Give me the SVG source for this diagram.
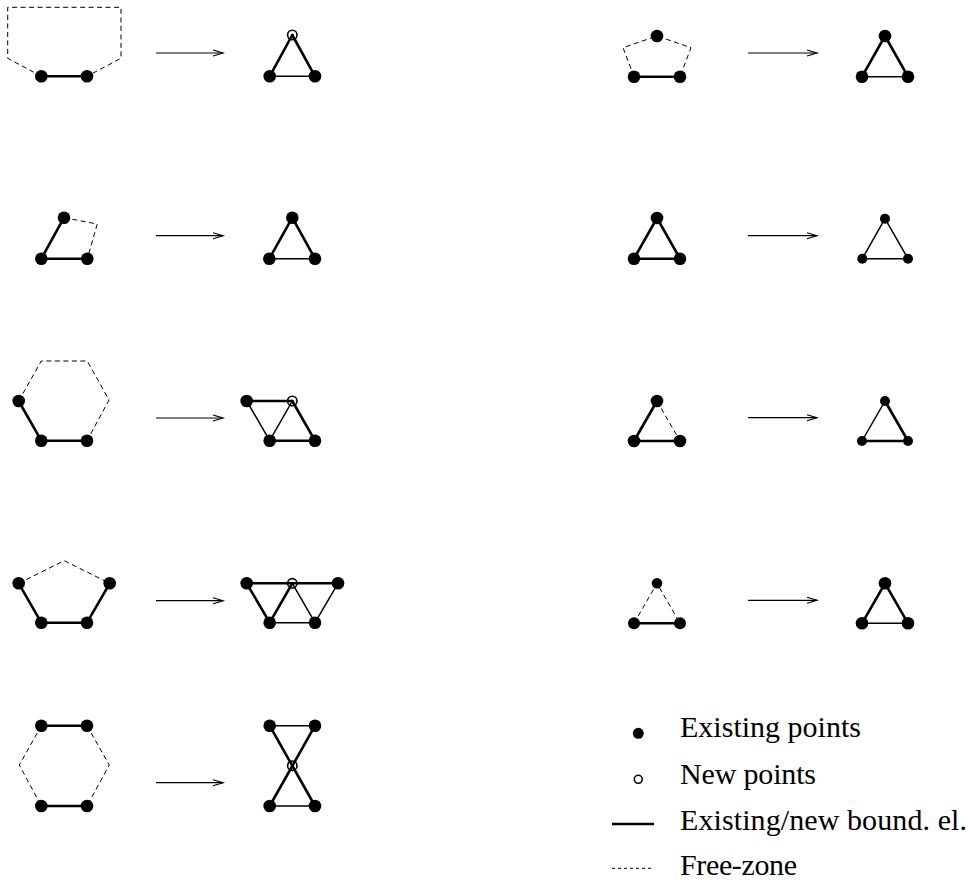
<svg xmlns="http://www.w3.org/2000/svg" width="968" height="882" viewBox="0 0 968 882">
<style>
.tk{stroke:#000;stroke-width:2.6;fill:none;stroke-linecap:round}
.tn{stroke:#000;stroke-width:1.5;fill:none;stroke-linecap:round}
.ds{stroke:#000;stroke-width:1;fill:none;stroke-dasharray:5 3.5}
.dot{fill:#000}
.op{fill:none;stroke:#000;stroke-width:1.6}
.ar{stroke:#000;stroke-width:1.2;fill:none;marker-end:url(#ah)}
.lg{font-family:"Liberation Serif","Times New Roman",serif;font-size:30px;fill:#000}
</style>
<defs>
<marker id="ah" markerUnits="userSpaceOnUse" markerWidth="14" markerHeight="10" refX="11" refY="4" orient="auto">
<path d="M1,1 L11,4 L1,7" fill="none" stroke="#000" stroke-width="1.2"/>
</marker>
</defs>

<g id="connectors">
<line class="ar" x1="156" y1="53" x2="223" y2="53"/>
<line class="ar" x1="748" y1="53" x2="817" y2="53"/>
<line class="ar" x1="156" y1="235.7" x2="223" y2="235.7"/>
<line class="ar" x1="748" y1="235.7" x2="817" y2="235.7"/>
<line class="ar" x1="156" y1="418" x2="223" y2="418"/>
<line class="ar" x1="748" y1="417.7" x2="817" y2="417.7"/>
<line class="ar" x1="156" y1="600.7" x2="223" y2="600.7"/>
<line class="ar" x1="748" y1="600.3" x2="817" y2="600.3"/>
<line class="ar" x1="156" y1="782.7" x2="223" y2="782.7"/>
</g>

<!-- Row 1 left -->
<g id="l1-before">
<path class="ds" d="M41.3,76.3 L7.7,58.3 L7.7,7.3 L121,7.3 L121,58.3 L87,76.3"/>
<line class="tk" x1="41.3" y1="76.3" x2="87" y2="76.3"/>
<circle class="dot" cx="41.3" cy="76.3" r="6.3"/>
<circle class="dot" cx="87" cy="76.3" r="6.3"/>
</g>
<g id="l1-after">
<line class="tk" x1="269.7" y1="76.3" x2="292.3" y2="35"/>
<line class="tk" x1="315" y1="76.3" x2="292.3" y2="35"/>
<line class="tn" x1="269.7" y1="76.3" x2="315" y2="76.3"/>
<circle class="dot" cx="269.7" cy="76.3" r="6.3"/>
<circle class="dot" cx="315" cy="76.3" r="6.3"/>
<circle class="op" cx="292.3" cy="35" r="4.7"/>
</g>

<!-- Row 1 right -->
<g id="r1-before">
<path class="ds" d="M634,76.7 L623,47.7 L657,36 L691,47.7 L680,76.7"/>
<line class="tk" x1="634" y1="76.7" x2="680" y2="76.7"/>
<circle class="dot" cx="657" cy="36" r="6.3"/>
<circle class="dot" cx="634" cy="76.7" r="6.3"/>
<circle class="dot" cx="680" cy="76.7" r="6.3"/>
</g>
<g id="r1-after">
<line class="tk" x1="862" y1="76.7" x2="885" y2="36"/>
<line class="tk" x1="908" y1="76.7" x2="885" y2="36"/>
<line class="tn" x1="862" y1="76.7" x2="908" y2="76.7"/>
<circle class="dot" cx="885" cy="36" r="6.3"/>
<circle class="dot" cx="862" cy="76.7" r="6.3"/>
<circle class="dot" cx="908" cy="76.7" r="6.3"/>
</g>

<!-- Row 2 left -->
<g id="l2-before">
<path class="ds" d="M64,217.7 L97.3,224 L87.3,258.7"/>
<line class="tk" x1="41.3" y1="258.7" x2="64" y2="217.7"/>
<line class="tk" x1="41.3" y1="258.7" x2="87.3" y2="258.7"/>
<circle class="dot" cx="64" cy="217.7" r="6.3"/>
<circle class="dot" cx="41.3" cy="258.7" r="6.3"/>
<circle class="dot" cx="87.3" cy="258.7" r="6.3"/>
</g>
<g id="l2-after">
<line class="tk" x1="269.3" y1="258.7" x2="292.3" y2="217.7"/>
<line class="tk" x1="315" y1="258.7" x2="292.3" y2="217.7"/>
<line class="tn" x1="269.3" y1="258.7" x2="315" y2="258.7"/>
<circle class="dot" cx="292.3" cy="217.7" r="6.3"/>
<circle class="dot" cx="269.3" cy="258.7" r="6.3"/>
<circle class="dot" cx="315" cy="258.7" r="6.3"/>
</g>

<!-- Row 2 right -->
<g id="r2-before">
<line class="tk" x1="634" y1="258.7" x2="657" y2="218"/>
<line class="tk" x1="680" y1="258.7" x2="657" y2="218"/>
<line class="tk" x1="634" y1="258.7" x2="680" y2="258.7"/>
<circle class="dot" cx="657" cy="218" r="6.3"/>
<circle class="dot" cx="634" cy="258.7" r="6.3"/>
<circle class="dot" cx="680" cy="258.7" r="6.3"/>
</g>
<g id="r2-after">
<line class="tn" x1="862.3" y1="258.7" x2="885" y2="218.7"/>
<line class="tn" x1="908" y1="258.7" x2="885" y2="218.7"/>
<line class="tn" x1="862.3" y1="258.7" x2="908" y2="258.7"/>
<circle class="dot" cx="885" cy="218.7" r="5"/>
<circle class="dot" cx="862.3" cy="258.7" r="5"/>
<circle class="dot" cx="908" cy="258.7" r="5"/>
</g>

<!-- Row 3 left -->
<g id="l3-before">
<path class="ds" d="M18.7,401 L41.3,361 L87.3,361 L109,400 L87,440.7"/>
<line class="tk" x1="18.7" y1="401" x2="41.3" y2="440.7"/>
<line class="tk" x1="41.3" y1="440.7" x2="87" y2="440.7"/>
<circle class="dot" cx="18.7" cy="401" r="6.3"/>
<circle class="dot" cx="41.3" cy="440.7" r="6.3"/>
<circle class="dot" cx="87" cy="440.7" r="6.3"/>
</g>
<g id="l3-after">
<line class="tk" x1="246.7" y1="401" x2="292.3" y2="401"/>
<line class="tn" x1="246.7" y1="401" x2="269.7" y2="440.7"/>
<line class="tn" x1="269.7" y1="440.7" x2="292.3" y2="401"/>
<line class="tk" x1="292.3" y1="401" x2="315" y2="440.7"/>
<line class="tk" x1="269.7" y1="440.7" x2="315" y2="440.7"/>
<circle class="dot" cx="246.7" cy="401" r="6.3"/>
<circle class="dot" cx="269.7" cy="440.7" r="6.3"/>
<circle class="dot" cx="315" cy="440.7" r="6.3"/>
<circle class="op" cx="292.3" cy="401" r="4.7"/>
</g>

<!-- Row 3 right -->
<g id="r3-before">
<path class="ds" d="M657,401 L680,441"/>
<line class="tk" x1="634" y1="441" x2="657" y2="401"/>
<line class="tk" x1="634" y1="441" x2="680" y2="441"/>
<circle class="dot" cx="657" cy="401" r="6.3"/>
<circle class="dot" cx="634" cy="441" r="6.3"/>
<circle class="dot" cx="680" cy="441" r="6.3"/>
</g>
<g id="r3-after">
<line class="tn" x1="862" y1="441" x2="885" y2="401"/>
<line class="tk" x1="908" y1="441" x2="885" y2="401"/>
<line class="tk" x1="862" y1="441" x2="908" y2="441"/>
<circle class="dot" cx="885" cy="401" r="5"/>
<circle class="dot" cx="862" cy="441" r="5"/>
<circle class="dot" cx="908" cy="441" r="5"/>
</g>

<!-- Row 4 left -->
<g id="l4-before">
<path class="ds" d="M18.7,583.3 L64.3,560.7 L109.7,583.3"/>
<line class="tk" x1="18.7" y1="583.3" x2="41.3" y2="622.7"/>
<line class="tk" x1="41.3" y1="622.7" x2="87" y2="622.7"/>
<line class="tk" x1="87" y1="622.7" x2="109.7" y2="583.3"/>
<circle class="dot" cx="18.7" cy="583.3" r="6.3"/>
<circle class="dot" cx="41.3" cy="622.7" r="6.3"/>
<circle class="dot" cx="87" cy="622.7" r="6.3"/>
<circle class="dot" cx="109.7" cy="583.3" r="6.3"/>
</g>
<g id="l4-after">
<line class="tk" x1="246.7" y1="583.3" x2="338" y2="583.3"/>
<line class="tk" x1="246.7" y1="583.3" x2="269.7" y2="622.7"/>
<line class="tk" x1="269.7" y1="622.7" x2="292.3" y2="583.3"/>
<line class="tn" x1="292.3" y1="583.3" x2="315" y2="622.7"/>
<line class="tn" x1="315" y1="622.7" x2="338" y2="583.3"/>
<line class="tn" x1="269.7" y1="622.7" x2="315" y2="622.7"/>
<circle class="dot" cx="246.7" cy="583.3" r="6.3"/>
<circle class="dot" cx="338" cy="583.3" r="6.3"/>
<circle class="dot" cx="269.7" cy="622.7" r="6.3"/>
<circle class="dot" cx="315" cy="622.7" r="6.3"/>
<circle class="op" cx="292.3" cy="583.3" r="4.7"/>
</g>

<!-- Row 4 right -->
<g id="r4-before">
<path class="ds" d="M634,623.3 L657,583.3 L680,623.3"/>
<line class="tk" x1="634" y1="623.3" x2="680" y2="623.3"/>
<circle class="dot" cx="657" cy="583.3" r="5.3"/>
<circle class="dot" cx="634" cy="623.3" r="6"/>
<circle class="dot" cx="680" cy="623.3" r="6"/>
</g>
<g id="r4-after">
<line class="tk" x1="862" y1="623.3" x2="885" y2="583.3"/>
<line class="tk" x1="908" y1="623.3" x2="885" y2="583.3"/>
<line class="tn" x1="862" y1="623.3" x2="908" y2="623.3"/>
<circle class="dot" cx="885" cy="583.3" r="6.3"/>
<circle class="dot" cx="862" cy="623.3" r="6.3"/>
<circle class="dot" cx="908" cy="623.3" r="6.3"/>
</g>

<!-- Row 5 left -->
<g id="l5-before">
<path class="ds" d="M41.3,725.7 L19.3,765 L41.3,806"/>
<path class="ds" d="M87,725.7 L109.3,765 L87,806"/>
<line class="tk" x1="41.3" y1="725.7" x2="87" y2="725.7"/>
<line class="tk" x1="41.3" y1="806" x2="87" y2="806"/>
<circle class="dot" cx="41.3" cy="725.7" r="6.3"/>
<circle class="dot" cx="87" cy="725.7" r="6.3"/>
<circle class="dot" cx="41.3" cy="806" r="6.3"/>
<circle class="dot" cx="87" cy="806" r="6.3"/>
</g>
<g id="l5-after">
<line class="tn" x1="269.7" y1="725.7" x2="315" y2="725.7"/>
<line class="tn" x1="269.7" y1="806" x2="315" y2="806"/>
<line class="tk" x1="269.7" y1="725.7" x2="315" y2="806"/>
<line class="tk" x1="315" y1="725.7" x2="269.7" y2="806"/>
<circle class="dot" cx="269.7" cy="725.7" r="6.3"/>
<circle class="dot" cx="315" cy="725.7" r="6.3"/>
<circle class="dot" cx="269.7" cy="806" r="6.3"/>
<circle class="dot" cx="315" cy="806" r="6.3"/>
<circle class="op" cx="292.3" cy="765.7" r="4.7"/>
</g>

<!-- Legend -->
<g id="legend">
<circle class="dot" cx="638.3" cy="733.3" r="5.5"/>
<text class="lg" x="680" y="737.3" textLength="181" lengthAdjust="spacing">Existing points</text>
<circle class="op" cx="638.3" cy="779.3" r="4"/>
<text class="lg" x="680" y="783.5" textLength="136" lengthAdjust="spacing">New points</text>
<line class="tk" x1="612" y1="824" x2="654" y2="824" style="stroke-linecap:butt;stroke-width:2.4"/>
<text class="lg" x="680" y="829.5" textLength="287" lengthAdjust="spacing">Existing/new bound. el.</text>
<line class="ds" x1="612" y1="868.3" x2="654" y2="868.3" style="stroke-dasharray:3 3"/>
<text class="lg" x="680" y="875" textLength="117" lengthAdjust="spacing">Free-zone</text>
</g>
</svg>
